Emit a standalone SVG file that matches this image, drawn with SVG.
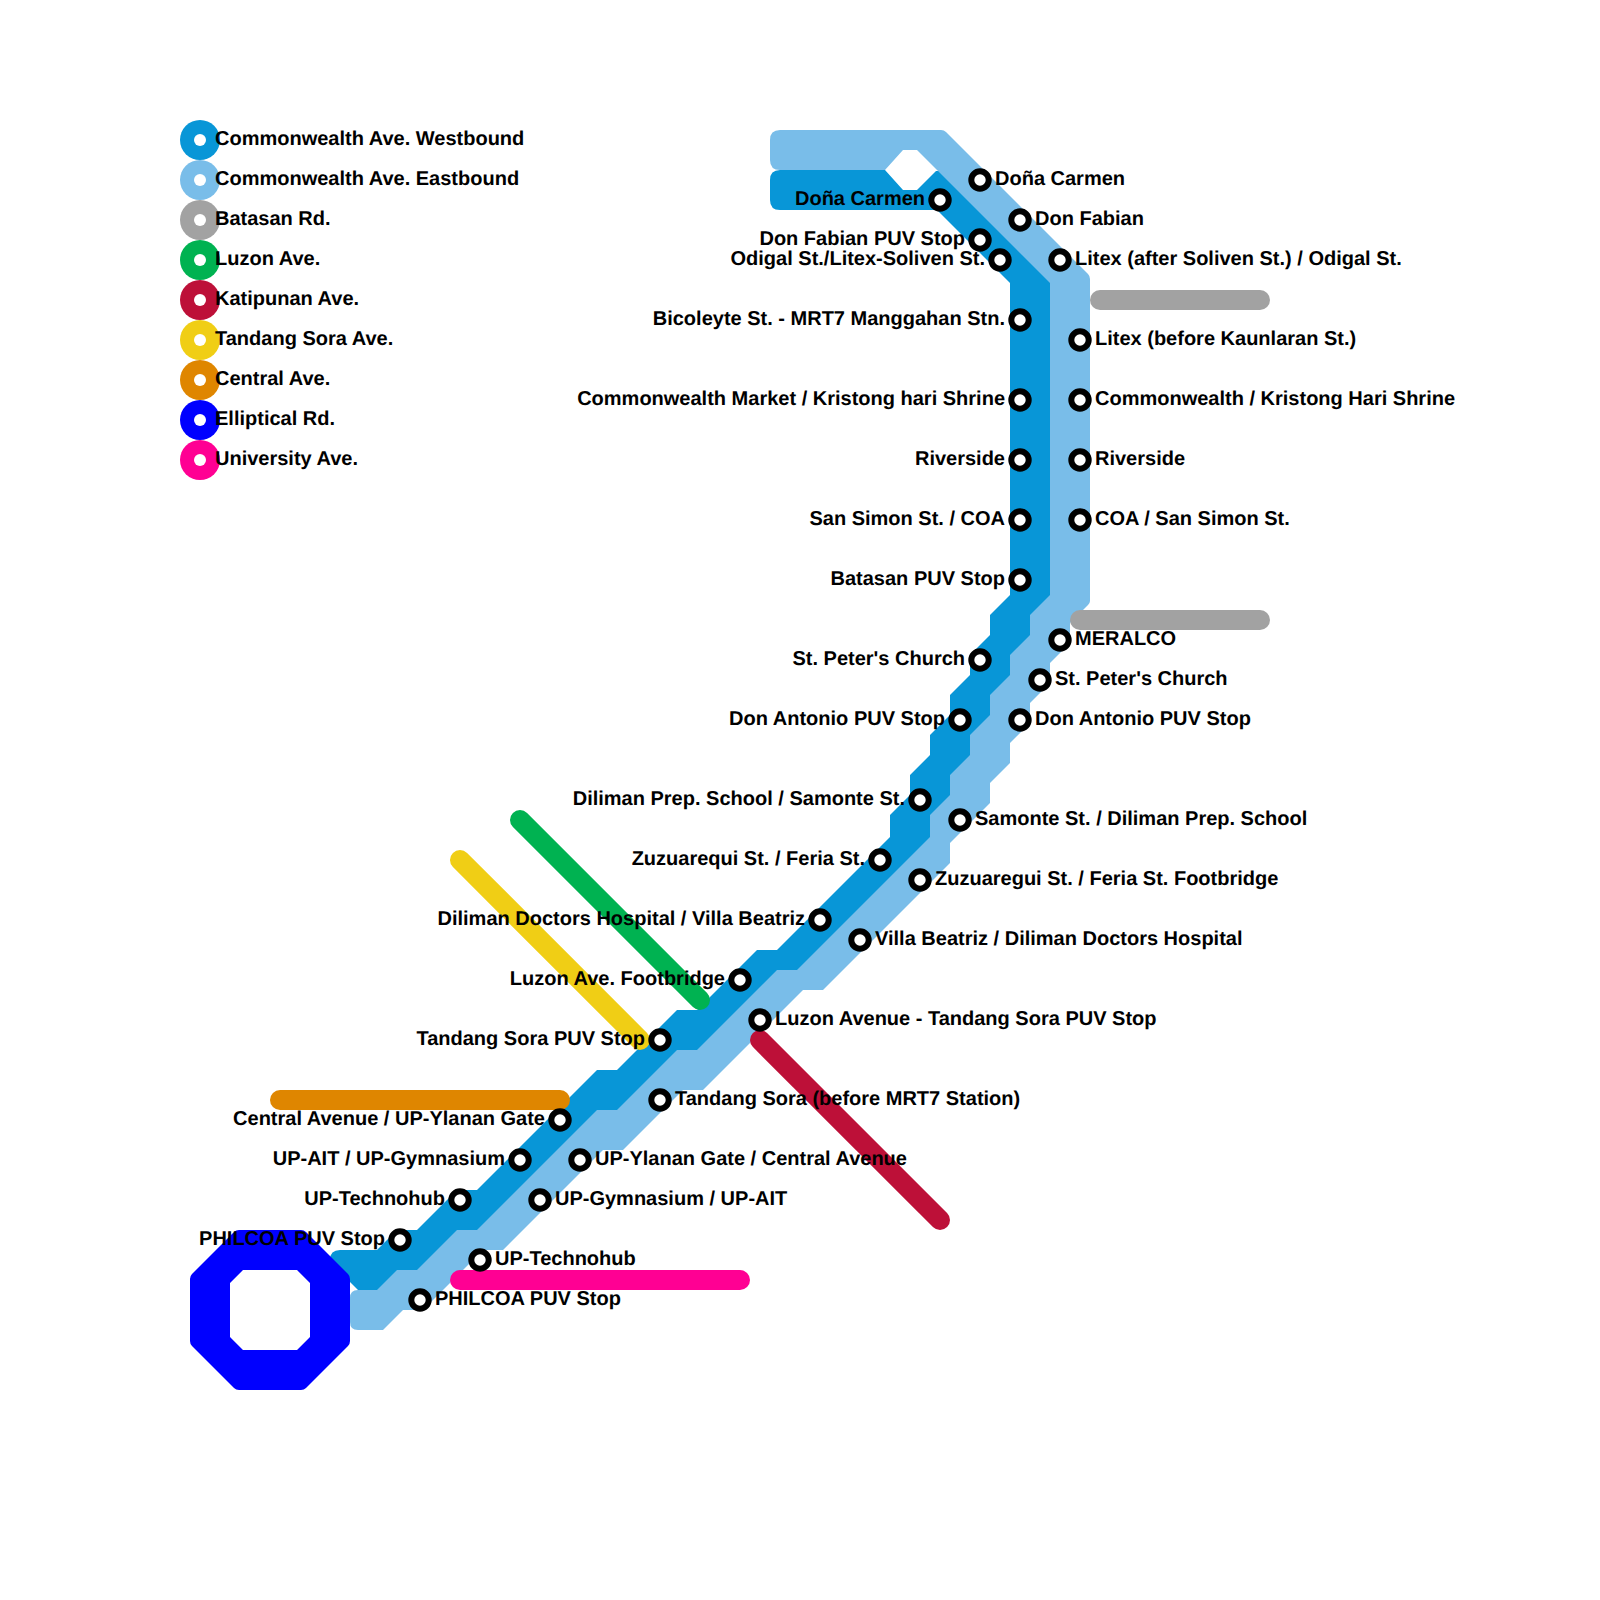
<svg xmlns="http://www.w3.org/2000/svg" width="1600" height="1600" viewBox="0 0 1600 1600">
<style>
text{font-family:"Liberation Sans",Arial,sans-serif;font-weight:bold;font-size:20px;fill:#000;text-rendering:geometricPrecision}
.l{text-anchor:end}
.st{fill:#fff;stroke:#000;stroke-width:6}
.lg{fill:#fff}
.w{fill:#0896d7}.e{fill:#79bde9}
.ln{fill:none;stroke-width:20;stroke-linecap:round}
</style>
<g id="connectors">
<path id="line-westbound" class="w" d="M780 170H885L903 190H917L936 171H940L1054 285V595L1034 615V635L1014 655V675L994 695V715L974 735V755L954 775V795L934 815V840L800 973H780L700 1053H680L620 1113H600L480 1233H460L420 1273H400L380 1293H362V1290H358L350 1282L330 1260Q330 1250 340 1250H377L397 1230H417L457 1190H477L597 1070H617L677 1010H697L757 950H777L890 837V815L910 795V775L930 755V735L950 715V695L970 675V655L990 635V615L1010 595V283L937 210H780Q770 210 770 200V180Q770 170 780 170Z"/>
<path id="line-eastbound" class="e" d="M780 130H941Q944 130 946 132L1088 274Q1090 276 1090 279V601Q1090 603 1088 605L1070 623V643L1050 663V683L1030 703V723L1010 743V763L990 783V803L950 843V863L823 990H803L703 1090H683L623 1150H603L503 1250H483L423 1310H403L383 1330H358Q350 1330 350 1322V1298Q350 1290 358 1290H377L397 1270H417L457 1230H477L597 1110H617L677 1050H697L777 970H797L930 837V815L950 795V775L970 755V735L990 715V695L1010 675V655L1030 635V615L1050 595V283L917 150H903L885 170H780Q770 170 770 160V140Q770 130 780 130Z"/>
<path id="line-batasan-1" class="ln" stroke="#a2a2a2" d="M1100 300H1260"/>
<path id="line-batasan-2" class="ln" stroke="#a2a2a2" d="M1080 620H1260"/>
<path id="line-luzon" class="ln" stroke="#00b251" d="M520 820L700 1000"/>
<path id="line-katipunan" class="ln" stroke="#bd1038" d="M760 1040L940 1220"/>
<path id="line-tandang-sora" class="ln" stroke="#f0ce15" d="M460 860L640 1040"/>
<path id="line-central" class="ln" stroke="#df8600" d="M280 1100H560"/>
<path id="line-university" class="ln" stroke="#ff0093" d="M460 1280H740"/>
<path id="line-elliptical" fill="#0000ff" fill-rule="evenodd" d="M239 1230H301Q304 1230 306 1232L348 1274Q350 1276 350 1279V1341Q350 1344 348 1346L306 1388Q304 1390 301 1390H239Q236 1390 234 1388L192 1346Q190 1344 190 1341V1279Q190 1276 192 1274L234 1232Q236 1230 239 1230ZM243 1270L230 1283V1337L243 1350H297L310 1337V1283L297 1270Z"/>
</g>
<g id="legend">
<g id="legend-westbound"><circle cx="200" cy="140" r="20" fill="#0896d7"/><circle class="lg" cx="200" cy="140" r="6"/><text x="215" y="145">Commonwealth Ave. Westbound</text></g>
<g id="legend-eastbound"><circle cx="200" cy="180" r="20" fill="#79bde9"/><circle class="lg" cx="200" cy="180" r="6"/><text x="215" y="185">Commonwealth Ave. Eastbound</text></g>
<g id="legend-batasan"><circle cx="200" cy="220" r="20" fill="#a2a2a2"/><circle class="lg" cx="200" cy="220" r="6"/><text x="215" y="225">Batasan Rd.</text></g>
<g id="legend-luzon"><circle cx="200" cy="260" r="20" fill="#00b251"/><circle class="lg" cx="200" cy="260" r="6"/><text x="215" y="265">Luzon Ave.</text></g>
<g id="legend-katipunan"><circle cx="200" cy="300" r="20" fill="#bd1038"/><circle class="lg" cx="200" cy="300" r="6"/><text x="215" y="305">Katipunan Ave.</text></g>
<g id="legend-tandang-sora"><circle cx="200" cy="340" r="20" fill="#f0ce15"/><circle class="lg" cx="200" cy="340" r="6"/><text x="215" y="345">Tandang Sora Ave.</text></g>
<g id="legend-central"><circle cx="200" cy="380" r="20" fill="#df8600"/><circle class="lg" cx="200" cy="380" r="6"/><text x="215" y="385">Central Ave.</text></g>
<g id="legend-elliptical"><circle cx="200" cy="420" r="20" fill="#0000ff"/><circle class="lg" cx="200" cy="420" r="6"/><text x="215" y="425">Elliptical Rd.</text></g>
<g id="legend-university"><circle cx="200" cy="460" r="20" fill="#ff0093"/><circle class="lg" cx="200" cy="460" r="6"/><text x="215" y="465">University Ave.</text></g>
</g>
<g id="stations">
<g id="w01"><circle class="st" cx="940" cy="200" r="8.7"/><text class="l" x="925" y="205">Doña Carmen</text></g>
<g id="w02"><circle class="st" cx="980" cy="240" r="8.7"/><text class="l" x="965" y="245">Don Fabian PUV Stop</text></g>
<g id="w03"><circle class="st" cx="1000" cy="260" r="8.7"/><text class="l" x="985" y="265">Odigal St./Litex-Soliven St.</text></g>
<g id="w04"><circle class="st" cx="1020" cy="320" r="8.7"/><text class="l" x="1005" y="325">Bicoleyte St. - MRT7 Manggahan Stn.</text></g>
<g id="w05"><circle class="st" cx="1020" cy="400" r="8.7"/><text class="l" x="1005" y="405">Commonwealth Market / Kristong hari Shrine</text></g>
<g id="w06"><circle class="st" cx="1020" cy="460" r="8.7"/><text class="l" x="1005" y="465">Riverside</text></g>
<g id="w07"><circle class="st" cx="1020" cy="520" r="8.7"/><text class="l" x="1005" y="525">San Simon St. / COA</text></g>
<g id="w08"><circle class="st" cx="1020" cy="580" r="8.7"/><text class="l" x="1005" y="585">Batasan PUV Stop</text></g>
<g id="w09"><circle class="st" cx="980" cy="660" r="8.7"/><text class="l" x="965" y="665">St. Peter's Church</text></g>
<g id="w10"><circle class="st" cx="960" cy="720" r="8.7"/><text class="l" x="945" y="725">Don Antonio PUV Stop</text></g>
<g id="w11"><circle class="st" cx="920" cy="800" r="8.7"/><text class="l" x="905" y="805">Diliman Prep. School / Samonte St.</text></g>
<g id="w12"><circle class="st" cx="880" cy="860" r="8.7"/><text class="l" x="865" y="865">Zuzuarequi St. / Feria St.</text></g>
<g id="w13"><circle class="st" cx="820" cy="920" r="8.7"/><text class="l" x="805" y="925">Diliman Doctors Hospital / Villa Beatriz</text></g>
<g id="w14"><circle class="st" cx="740" cy="980" r="8.7"/><text class="l" x="725" y="985">Luzon Ave. Footbridge</text></g>
<g id="w15"><circle class="st" cx="660" cy="1040" r="8.7"/><text class="l" x="645" y="1045">Tandang Sora PUV Stop</text></g>
<g id="w16"><circle class="st" cx="560" cy="1120" r="8.7"/><text class="l" x="545" y="1125">Central Avenue / UP-Ylanan Gate</text></g>
<g id="w17"><circle class="st" cx="520" cy="1160" r="8.7"/><text class="l" x="505" y="1165">UP-AIT / UP-Gymnasium</text></g>
<g id="w18"><circle class="st" cx="460" cy="1200" r="8.7"/><text class="l" x="445" y="1205">UP-Technohub</text></g>
<g id="w19"><circle class="st" cx="400" cy="1240" r="8.7"/><text class="l" x="385" y="1245">PHILCOA PUV Stop</text></g>
<g id="e01"><circle class="st" cx="980" cy="180" r="8.7"/><text x="995" y="185">Doña Carmen</text></g>
<g id="e02"><circle class="st" cx="1020" cy="220" r="8.7"/><text x="1035" y="225">Don Fabian</text></g>
<g id="e03"><circle class="st" cx="1060" cy="260" r="8.7"/><text x="1075" y="265">Litex (after Soliven St.) / Odigal St.</text></g>
<g id="e04"><circle class="st" cx="1080" cy="340" r="8.7"/><text x="1095" y="345">Litex (before Kaunlaran St.)</text></g>
<g id="e05"><circle class="st" cx="1080" cy="400" r="8.7"/><text x="1095" y="405">Commonwealth / Kristong Hari Shrine</text></g>
<g id="e06"><circle class="st" cx="1080" cy="460" r="8.7"/><text x="1095" y="465">Riverside</text></g>
<g id="e07"><circle class="st" cx="1080" cy="520" r="8.7"/><text x="1095" y="525">COA / San Simon St.</text></g>
<g id="e08"><circle class="st" cx="1060" cy="640" r="8.7"/><text x="1075" y="645">MERALCO</text></g>
<g id="e09"><circle class="st" cx="1040" cy="680" r="8.7"/><text x="1055" y="685">St. Peter's Church</text></g>
<g id="e10"><circle class="st" cx="1020" cy="720" r="8.7"/><text x="1035" y="725">Don Antonio PUV Stop</text></g>
<g id="e11"><circle class="st" cx="960" cy="820" r="8.7"/><text x="975" y="825">Samonte St. / Diliman Prep. School</text></g>
<g id="e12"><circle class="st" cx="920" cy="880" r="8.7"/><text x="935" y="885">Zuzuaregui St. / Feria St. Footbridge</text></g>
<g id="e13"><circle class="st" cx="860" cy="940" r="8.7"/><text x="875" y="945">Villa Beatriz / Diliman Doctors Hospital</text></g>
<g id="e14"><circle class="st" cx="760" cy="1020" r="8.7"/><text x="775" y="1025">Luzon Avenue - Tandang Sora PUV Stop</text></g>
<g id="e15"><circle class="st" cx="660" cy="1100" r="8.7"/><text x="675" y="1105">Tandang Sora (before MRT7 Station)</text></g>
<g id="e16"><circle class="st" cx="580" cy="1160" r="8.7"/><text x="595" y="1165">UP-Ylanan Gate / Central Avenue</text></g>
<g id="e17"><circle class="st" cx="540" cy="1200" r="8.7"/><text x="555" y="1205">UP-Gymnasium / UP-AIT</text></g>
<g id="e18"><circle class="st" cx="480" cy="1260" r="8.7"/><text x="495" y="1265">UP-Technohub</text></g>
<g id="e19"><circle class="st" cx="420" cy="1300" r="8.7"/><text x="435" y="1305">PHILCOA PUV Stop</text></g>
</g>
</svg>
